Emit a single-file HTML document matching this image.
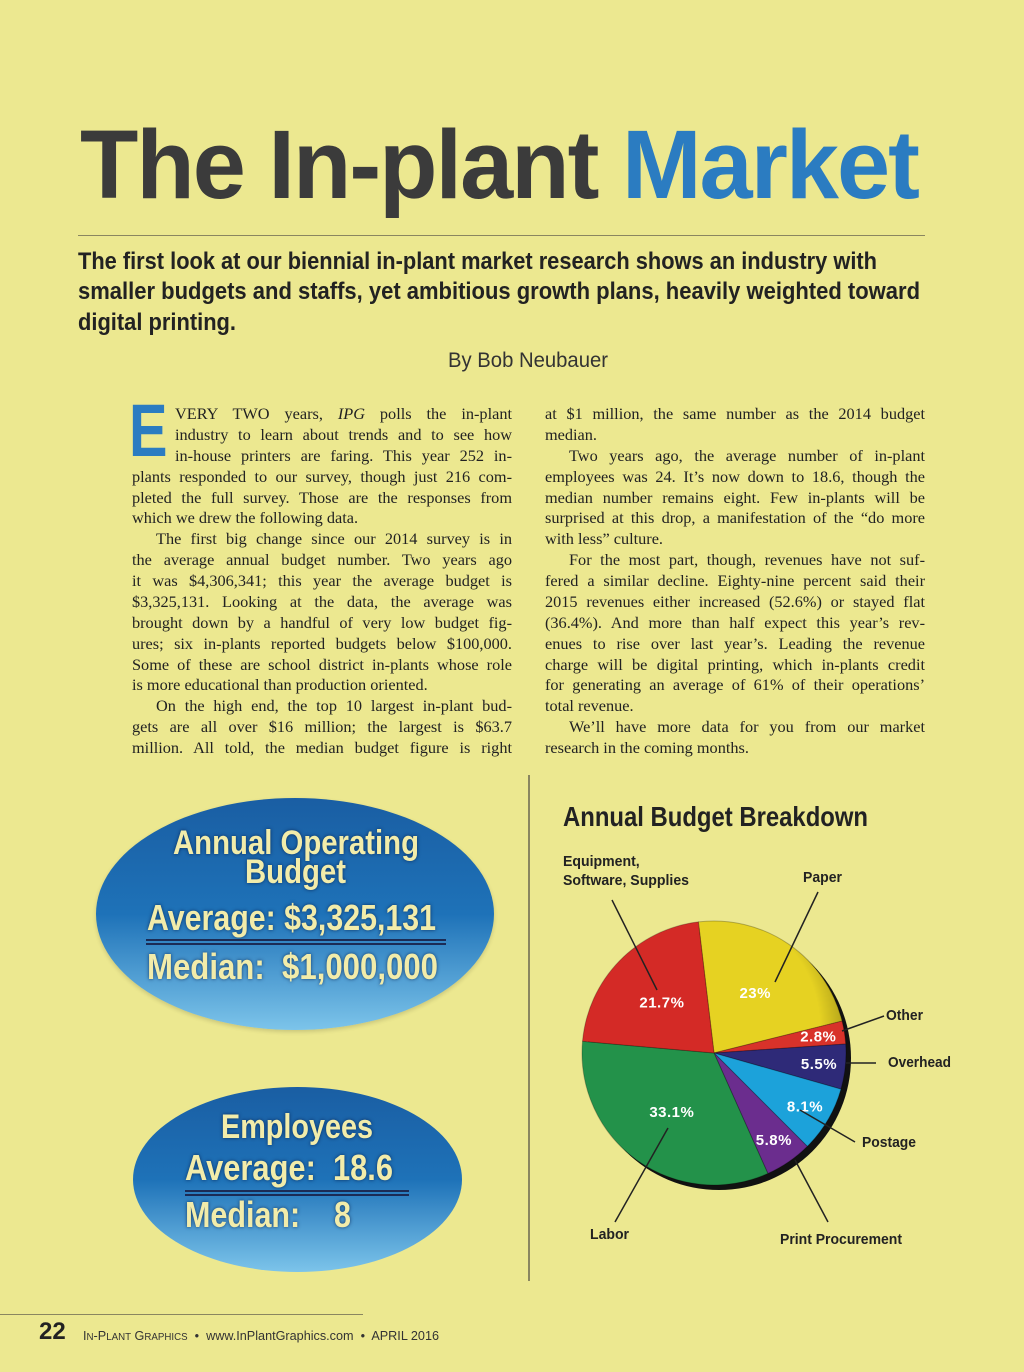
<!DOCTYPE html>
<html><head><meta charset="utf-8">
<style>
html,body{margin:0;padding:0}
body{width:1024px;height:1372px;background:#ece890;position:relative;overflow:hidden;font-family:"Liberation Sans",sans-serif}
.a{position:absolute;white-space:nowrap}
.fit{transform-origin:0 50%}
.title{left:80px;top:116px;font-size:97px;font-weight:bold;line-height:1;color:#3b3b3b;letter-spacing:-2px}
.sub{left:78px;font-size:24px;font-weight:bold;color:#222;line-height:30px}
.col{position:absolute;font-family:"Liberation Serif",serif;font-size:16.3px;color:#222;line-height:20.875px}
.ln{white-space:nowrap;text-align:justify;text-align-last:justify;overflow:visible}
.ln.l{text-align-last:left}
.ln.i{padding-left:24px}
.ov{font-family:"Liberation Sans Narrow","Liberation Sans",sans-serif;font-weight:bold;color:#f2ecaa;text-shadow:0 0 4px rgba(0,20,60,.7);line-height:1}
.pl{font-family:"Liberation Sans Narrow","Liberation Sans",sans-serif;font-weight:bold;font-size:15px;color:#222;line-height:19px;transform-origin:0 0}
</style></head><body>
<div class="a title fit" data-w="838">The In-plant <span style="color:#2b7cc1">Market</span></div>
<div class="a" style="left:78px;top:235px;width:847px;height:1px;background:#8a8660"></div>
<div class="a sub fit" data-w="799" style="top:247px">The first look at our biennial in-plant market research shows an industry with</div>
<div class="a sub fit" data-w="842" style="top:277px">smaller budgets and staffs, yet ambitious growth plans, heavily weighted toward</div>
<div class="a sub fit" data-w="158" style="top:308px">digital printing.</div>
<div class="a fit" data-w="160" style="left:448px;top:349px;font-size:21px;color:#333;line-height:24px">By Bob Neubauer</div>

<div class="a" style="left:129px;top:394px;font-size:74px;font-weight:bold;color:#2b7cc1;line-height:74px;font-family:'Liberation Sans',sans-serif;transform:scaleX(0.78);transform-origin:0 0">E</div>

<div class="col" style="left:132px;top:404px;width:380px">
<div class="ln" style="margin-left:43px">VERY TWO years, <i>IPG</i> polls the in-plant</div>
<div class="ln" style="margin-left:43px">industry to learn about trends and to see how</div>
<div class="ln" style="margin-left:43px">in-house printers are faring. This year 252 in-</div>
<div class="ln">plants responded to our survey, though just 216 com-</div>
<div class="ln">pleted the full survey. Those are the responses from</div>
<div class="ln l">which we drew the following data.</div>
<div class="ln i">The first big change since our 2014 survey is in</div>
<div class="ln">the average annual budget number. Two years ago</div>
<div class="ln">it was $4,306,341; this year the average budget is</div>
<div class="ln">$3,325,131. Looking at the data, the average was</div>
<div class="ln">brought down by a handful of very low budget fig-</div>
<div class="ln">ures; six in-plants reported budgets below $100,000.</div>
<div class="ln">Some of these are school district in-plants whose role</div>
<div class="ln l">is more educational than production oriented.</div>
<div class="ln i">On the high end, the top 10 largest in-plant bud-</div>
<div class="ln">gets are all over $16 million; the largest is $63.7</div>
<div class="ln">million. All told, the median budget figure is right</div>
</div>
<div class="col" style="left:545px;top:404px;width:380px">
<div class="ln">at $1 million, the same number as the 2014 budget</div>
<div class="ln l">median.</div>
<div class="ln i">Two years ago, the average number of in-plant</div>
<div class="ln">employees was 24. It’s now down to 18.6, though the</div>
<div class="ln">median number remains eight. Few in-plants will be</div>
<div class="ln">surprised at this drop, a manifestation of the “do more</div>
<div class="ln l">with less” culture.</div>
<div class="ln i">For the most part, though, revenues have not suf-</div>
<div class="ln">fered a similar decline. Eighty-nine percent said their</div>
<div class="ln">2015 revenues either increased (52.6%) or stayed flat</div>
<div class="ln">(36.4%). And more than half expect this year’s rev-</div>
<div class="ln">enues to rise over last year’s. Leading the revenue</div>
<div class="ln">charge will be digital printing, which in-plants credit</div>
<div class="ln">for generating an average of 61% of their operations’</div>
<div class="ln l">total revenue.</div>
<div class="ln i">We’ll have more data for you from our market</div>
<div class="ln l">research in the coming months.</div>
</div>

<div class="a" style="left:528px;top:775px;width:2px;height:506px;background:#8a8660"></div>

<div class="a" style="left:96px;top:798px;width:398px;height:232px;border-radius:50%;background:linear-gradient(#1a5ea3 0%,#1e72b8 50%,#7cc4ea 100%);box-shadow:0 2px 4px rgba(0,0,0,.15)"></div>
<div class="a ov fit" data-w="246" style="left:173px;top:826px;font-size:34px">Annual Operating</div>
<div class="a ov fit" data-w="101" style="left:245px;top:855px;font-size:34px">Budget</div>
<div class="a ov fit" data-w="289" style="left:147px;top:900px;font-size:36px">Average: $3,325,131</div>
<div class="a" style="left:146px;top:939px;width:300px;height:2px;border-top:2px solid #1b2b55;border-bottom:2px solid #1b2b55"></div>
<div class="a ov fit" data-w="291" style="left:147px;top:949px;font-size:36px">Median: &nbsp;$1,000,000</div>

<div class="a" style="left:133px;top:1087px;width:329px;height:185px;border-radius:50%;background:linear-gradient(#1a5ea3 0%,#1e72b8 50%,#7cc4ea 100%)"></div>
<div class="a ov fit" data-w="152" style="left:221px;top:1110px;font-size:34px">Employees</div>
<div class="a ov fit" data-w="208" style="left:185px;top:1150px;font-size:36px">Average: &nbsp;18.6</div>
<div class="a" style="left:185px;top:1190px;width:224px;height:2px;border-top:2px solid #1b2b55;border-bottom:2px solid #1b2b55"></div>
<div class="a ov fit" data-w="166" style="left:185px;top:1197px;font-size:36px">Median: &nbsp;&nbsp;&nbsp;8</div>

<div class="a fit" data-w="305" style="left:563px;top:801px;font-size:28px;font-weight:bold;color:#222;line-height:32px;font-family:'Liberation Sans Narrow','Liberation Sans',sans-serif">Annual Budget Breakdown</div>
<svg class="a" id="pie" style="left:0;top:0" width="1024" height="1372"></svg>
<div class="a pl fit" data-w="126" style="left:563px;top:852px">Equipment,<br>Software, Supplies</div>
<div class="a pl fit" data-w="39" style="left:803px;top:868px">Paper</div>
<div class="a pl fit" data-w="37" style="left:886px;top:1006px">Other</div>
<div class="a pl fit" data-w="63" style="left:888px;top:1053px">Overhead</div>
<div class="a pl fit" data-w="54" style="left:862px;top:1133px">Postage</div>
<div class="a pl fit" data-w="122" style="left:780px;top:1230px">Print Procurement</div>
<div class="a pl fit" data-w="39" style="left:590px;top:1225px">Labor</div>

<div class="a" style="left:0;top:1314px;width:363px;height:1px;background:#8a8660"></div>
<div class="a" style="left:39px;top:1319px;font-size:24px;font-weight:bold;color:#222;line-height:26px">22</div>
<div class="a fit" data-w="356" style="left:83px;top:1328px;font-size:13px;color:#333;line-height:16px">I<span style="font-size:10px">N</span>-P<span style="font-size:10px">LANT</span> G<span style="font-size:10px">RAPHICS</span> &nbsp;•&nbsp; www.InPlantGraphics.com &nbsp;•&nbsp; APRIL 2016</div>

<script>
const categories = ["Paper","Other","Overhead","Postage","Print Procurement","Labor","Equipment, Software, Supplies"];
const values = [23, 2.8, 5.5, 8.1, 5.8, 33.1, 21.7];
const valueLabels = ["23%","2.8%","5.5%","8.1%","5.8%","33.1%","21.7%"];
const colors = ["#e6d222","#d8322a","#2e2a78","#1ca2da","#6b2d8e","#23924a","#d42a26"];

(function(){
  const NS="http://www.w3.org/2000/svg";
  const svg=document.getElementById('pie');
  const cx=714, cy=1053, r=132, startDeg=-96.8;
  const total=values.reduce((a,b)=>a+b,0);
  const angle=v=>v/total*360;
  const pt=(deg,rr)=>[cx+rr*Math.cos(deg*Math.PI/180), cy+rr*Math.sin(deg*Math.PI/180)];
  const defs=document.createElementNS(NS,'defs');
  defs.innerHTML='<radialGradient id="shade" cx="45%" cy="40%" r="60%"><stop offset="75%" stop-color="#000" stop-opacity="0"/><stop offset="100%" stop-color="#000" stop-opacity="0.35"/></radialGradient>';
  svg.appendChild(defs);
  const sh=document.createElementNS(NS,'circle');
  sh.setAttribute('cx',cx+5);sh.setAttribute('cy',cy+5);sh.setAttribute('r',r);sh.setAttribute('fill','#111');
  
  
  svg.appendChild(sh);
  let a=startDeg;
  values.forEach((v,i)=>{
    const a1=a+angle(v);
    const p0=pt(a,r), p1=pt(a1,r);
    const large=angle(v)>180?1:0;
    const path=document.createElementNS(NS,'path');
    path.setAttribute('d',`M${cx},${cy} L${p0[0]},${p0[1]} A${r},${r} 0 ${large} 1 ${p1[0]},${p1[1]} Z`);
    path.setAttribute('fill',colors[i]);
    path.setAttribute('stroke','rgba(0,0,0,0.25)');
    path.setAttribute('stroke-width','1');
    
    
    svg.appendChild(path);
    const mid=(a+a1)/2;
    const lp=pt(mid, v<10? r*0.8 : r*0.55);
    const t=document.createElementNS(NS,'text');
    t.setAttribute('x',lp[0]);t.setAttribute('y',lp[1]+5);
    t.setAttribute('text-anchor','middle');
    t.setAttribute('font-family','Liberation Sans, sans-serif');
    t.setAttribute('font-weight','bold');t.setAttribute('font-size','15');
    t.setAttribute('fill','#fff');t.setAttribute('letter-spacing','0.5');
    t.textContent=valueLabels[i];
    
    
    svg.appendChild(t);
    a=a1;
  });
  const ov=document.createElementNS(NS,'circle');
  ov.setAttribute('cx',cx);ov.setAttribute('cy',cy);ov.setAttribute('r',r);ov.setAttribute('fill','url(#shade)');
  
  
  svg.insertBefore(ov, svg.querySelector('text'));
  const leaders=[[612,900,657,990],[818,892,775,982],[884,1016,842,1031],[876,1063,846,1063],[855,1142,800,1110],[828,1222,795,1160],[615,1222,668,1128]];
  leaders.forEach(l=>{
    const ln=document.createElementNS(NS,'line');
    ln.setAttribute('x1',l[0]);ln.setAttribute('y1',l[1]);ln.setAttribute('x2',l[2]);ln.setAttribute('y2',l[3]);
    ln.setAttribute('stroke','#222');ln.setAttribute('stroke-width','1.5');
    
    
    svg.appendChild(ln);
  });
})();

document.querySelectorAll('.fit').forEach(el=>{
  const w=+el.getAttribute('data-w'); const cw=el.getBoundingClientRect().width;
  if(w&&cw) el.style.transform='scaleX('+(w/cw)+')';
});
document.querySelectorAll('.ln').forEach(el=>{
  let ls=0;
  const avail=el.parentNode.clientWidth-(parseFloat(el.style.marginLeft)||0);
  el.style.display='inline-block';
  let guard=0;
  while(el.scrollWidth>avail && guard<30){ls-=0.1;el.style.letterSpacing=ls+'px';guard++;}
  el.style.display='block';
});
</script>
</body></html>
